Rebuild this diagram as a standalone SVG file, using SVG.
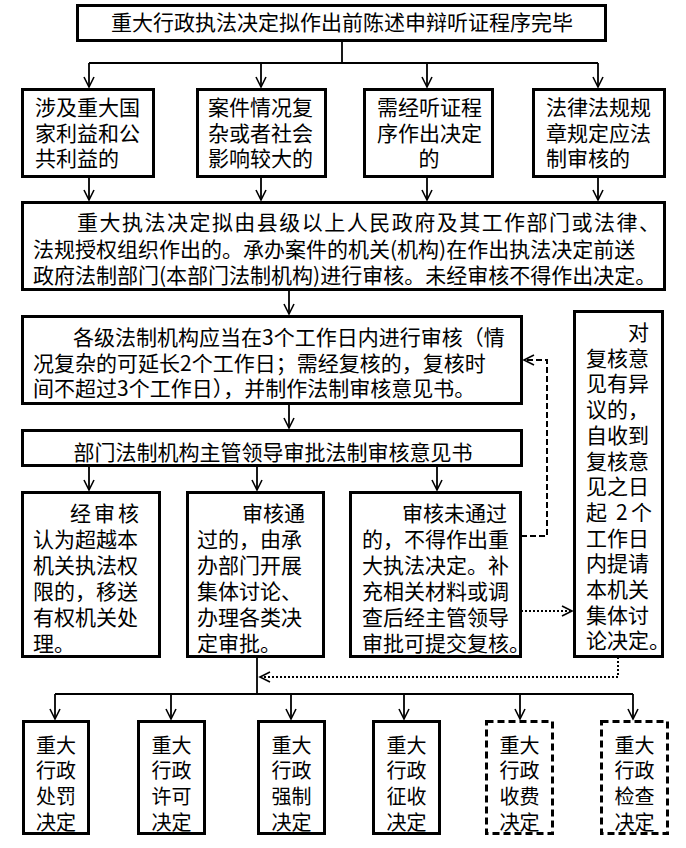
<svg xmlns="http://www.w3.org/2000/svg" width="686" height="848" viewBox="0 0 686 848">
<style>
.box{fill:#fff;stroke:#000;stroke-width:3}
.dbox{fill:#fff;stroke:#000;stroke-width:3;stroke-dasharray:7 4}
.t{font-family:"Noto Sans CJK SC","Noto Sans",sans-serif;font-size:21px;fill:#000}
.ts{font-family:"Noto Sans CJK SC","Noto Sans",sans-serif;font-size:20px;fill:#000}
.c{fill:none;stroke:#000;stroke-width:1.8}
.dash{fill:none;stroke:#000;stroke-width:2;stroke-dasharray:6 3}
.dot{fill:none;stroke:#000;stroke-width:2;stroke-dasharray:2 2}
</style>
<defs>
<marker id="arr" markerUnits="userSpaceOnUse" markerWidth="14" markerHeight="14" viewBox="-12 -7 14 14" refX="0" refY="0" orient="auto">
<path d="M-10,-5 L0,0 L-10,5" fill="none" stroke="#000" stroke-width="1.6"/>
</marker>
</defs>

<g id="connectors">
<path class="c" d="M342,41 V63 M89,63 H598"/>
<path class="c" d="M89,63 V87" marker-end="url(#arr)"/>
<path class="c" d="M261,63 V87" marker-end="url(#arr)"/>
<path class="c" d="M427,63 V87" marker-end="url(#arr)"/>
<path class="c" d="M598,63 V87" marker-end="url(#arr)"/>
<path class="c" d="M89,177 V200" marker-end="url(#arr)"/>
<path class="c" d="M261,177 V200" marker-end="url(#arr)"/>
<path class="c" d="M427,177 V200" marker-end="url(#arr)"/>
<path class="c" d="M598,177 V200" marker-end="url(#arr)"/>
<path class="c" d="M289,290 V314" marker-end="url(#arr)"/>
<path class="c" d="M289,404 V428" marker-end="url(#arr)"/>
<path class="c" d="M89,466 V490" marker-end="url(#arr)"/>
<path class="c" d="M257,466 V490" marker-end="url(#arr)"/>
<path class="c" d="M437,466 V490" marker-end="url(#arr)"/>
<path class="dash" d="M521,536 H547 V360 H524" marker-end="url(#arr)"/>
<path class="dot" d="M521,611 H572" marker-end="url(#arr)"/>
<path class="dot" d="M618,657 V677 H260" marker-end="url(#arr)"/>
<path class="c" d="M257,657 V694 M55,694 H633"/>
<path class="c" d="M55,694 V719" marker-end="url(#arr)"/>
<path class="c" d="M171,694 V719" marker-end="url(#arr)"/>
<path class="c" d="M291,694 V719" marker-end="url(#arr)"/>
<path class="c" d="M404,694 V719" marker-end="url(#arr)"/>
<path class="c" d="M520,694 V719" marker-end="url(#arr)"/>
<path class="c" d="M633,694 V719" marker-end="url(#arr)"/>
</g>

<g id="n-top">
<rect class="box" x="77.5" y="5.5" width="528" height="35"/>
<text class="t" x="342" y="30" text-anchor="middle">重大行政执法决定拟作出前陈述申辩听证程序完毕</text>
</g>

<g id="n-c1">
<rect class="box" x="22.5" y="89.5" width="131" height="87"/>
<text class="t"><tspan x="35" y="115">涉及重大国</tspan><tspan x="35" y="141">家利益和公</tspan><tspan x="35" y="166">共利益的</tspan></text>
</g>
<g id="n-c2">
<rect class="box" x="197.5" y="89.5" width="128" height="87"/>
<text class="t"><tspan x="208" y="115">案件情况复</tspan><tspan x="208" y="141">杂或者社会</tspan><tspan x="208" y="166">影响较大的</tspan></text>
</g>
<g id="n-c3">
<rect class="box" x="364.5" y="89.5" width="128" height="87"/>
<text class="t"><tspan x="377" y="115">需经听证程</tspan><tspan x="377" y="141">序作出决定</tspan><tspan x="429" y="166" text-anchor="middle">的</tspan></text>
</g>
<g id="n-c4">
<rect class="box" x="533.5" y="89.5" width="131" height="87"/>
<text class="t"><tspan x="546" y="115">法律法规规</tspan><tspan x="546" y="141">章规定应法</tspan><tspan x="546" y="166">制审核的</tspan></text>
</g>

<g id="n-main">
<rect class="box" x="22.5" y="202.5" width="642" height="87"/>
<text class="t"><tspan x="77" y="230" textLength="583" lengthAdjust="spacing">重大执法决定拟由县级以上人民政府及其工作部门或法律、</tspan><tspan x="33" y="256.5">法规授权组织作出的。承办案件的机关(机构)在作出执法决定前送</tspan><tspan x="33" y="283">政府法制部门(本部门法制机构)进行审核。未经审核不得作出决定。</tspan></text>
</g>

<g id="n-review">
<rect class="box" x="22.5" y="316.5" width="499" height="87"/>
<text class="t"><tspan x="73" y="344.5">各级法制机构应当在3个工作日内进行审核（情</tspan><tspan x="33" y="370.5">况复杂的可延长2个工作日；需经复核的，复核时</tspan><tspan x="33" y="396">间不超过3个工作日），并制作法制审核意见书。</tspan></text>
</g>

<g id="n-approve">
<rect class="box" x="22.5" y="430.5" width="499" height="35"/>
<text class="t" x="273" y="459.5" text-anchor="middle">部门法制机构主管领导审批法制审核意见书</text>
</g>

<g id="n-a">
<rect class="box" x="22.5" y="492.5" width="137" height="164"/>
<text class="t"><tspan x="70" y="521" textLength="69" lengthAdjust="spacing">经审核</tspan><tspan x="33" y="547">认为超越本</tspan><tspan x="33" y="573">机关执法权</tspan><tspan x="33" y="599">限的，移送</tspan><tspan x="33" y="625">有权机关处</tspan><tspan x="33" y="651">理。</tspan></text>
</g>
<g id="n-b">
<rect class="box" x="187.5" y="492.5" width="136" height="164"/>
<text class="t"><tspan x="242" y="521">审核通</tspan><tspan x="197" y="547">过的，由承</tspan><tspan x="197" y="573">办部门开展</tspan><tspan x="197" y="599">集体讨论、</tspan><tspan x="197" y="625">办理各类决</tspan><tspan x="197" y="651">定审批。</tspan></text>
</g>
<g id="n-c">
<rect class="box" x="350.5" y="492.5" width="170" height="164"/>
<text class="t"><tspan x="402" y="521">审核未通过</tspan><tspan x="362" y="547">的，不得作出重</tspan><tspan x="362" y="573">大执法决定。补</tspan><tspan x="362" y="599">充相关材料或调</tspan><tspan x="362" y="625">查后经主管领导</tspan><tspan x="362" y="651">审批可提交复核。</tspan></text>
</g>
<g id="n-objection">
<rect class="box" x="574.5" y="311.5" width="88" height="345"/>
<text class="t"><tspan x="628" y="340">对</tspan><tspan x="586" y="365.7">复核意</tspan><tspan x="586" y="391.4">见有异</tspan><tspan x="586" y="417">议的，</tspan><tspan x="586" y="442.8">自收到</tspan><tspan x="586" y="468.5">复核意</tspan><tspan x="586" y="494.2">见之日</tspan><tspan x="586" y="519.9">起</tspan><tspan x="616" y="519.9">2</tspan><tspan x="631" y="519.9">个</tspan><tspan x="586" y="545.6">工作日</tspan><tspan x="586" y="571.3">内提请</tspan><tspan x="586" y="597">本机关</tspan><tspan x="586" y="622.7">集体讨</tspan><tspan x="586" y="648.4">论决定。</tspan></text>
</g>

<g id="n-d1">
<rect class="box" x="23.5" y="721.5" width="65" height="112"/>
<text class="ts" text-anchor="middle"><tspan x="56" y="752.5">重大</tspan><tspan x="56" y="778">行政</tspan><tspan x="56" y="804">处罚</tspan><tspan x="56" y="829.5">决定</tspan></text>
</g>
<g id="n-d2">
<rect class="box" x="138.5" y="721.5" width="66" height="112"/>
<text class="ts" text-anchor="middle"><tspan x="171.5" y="752.5">重大</tspan><tspan x="171.5" y="778">行政</tspan><tspan x="171.5" y="804">许可</tspan><tspan x="171.5" y="829.5">决定</tspan></text>
</g>
<g id="n-d3">
<rect class="box" x="258.5" y="721.5" width="66" height="112"/>
<text class="ts" text-anchor="middle"><tspan x="291.5" y="752.5">重大</tspan><tspan x="291.5" y="778">行政</tspan><tspan x="291.5" y="804">强制</tspan><tspan x="291.5" y="829.5">决定</tspan></text>
</g>
<g id="n-d4">
<rect class="box" x="373.5" y="721.5" width="66" height="112"/>
<text class="ts" text-anchor="middle"><tspan x="406.5" y="752.5">重大</tspan><tspan x="406.5" y="778">行政</tspan><tspan x="406.5" y="804">征收</tspan><tspan x="406.5" y="829.5">决定</tspan></text>
</g>
<g id="n-d5">
<rect class="dbox" x="486.5" y="721.5" width="66" height="112"/>
<text class="ts" text-anchor="middle"><tspan x="519.5" y="752.5">重大</tspan><tspan x="519.5" y="778">行政</tspan><tspan x="519.5" y="804">收费</tspan><tspan x="519.5" y="829.5">决定</tspan></text>
</g>
<g id="n-d6">
<rect class="dbox" x="601.5" y="721.5" width="66" height="112"/>
<text class="ts" text-anchor="middle"><tspan x="634.5" y="752.5">重大</tspan><tspan x="634.5" y="778">行政</tspan><tspan x="634.5" y="804">检查</tspan><tspan x="634.5" y="829.5">决定</tspan></text>
</g>
</svg>
